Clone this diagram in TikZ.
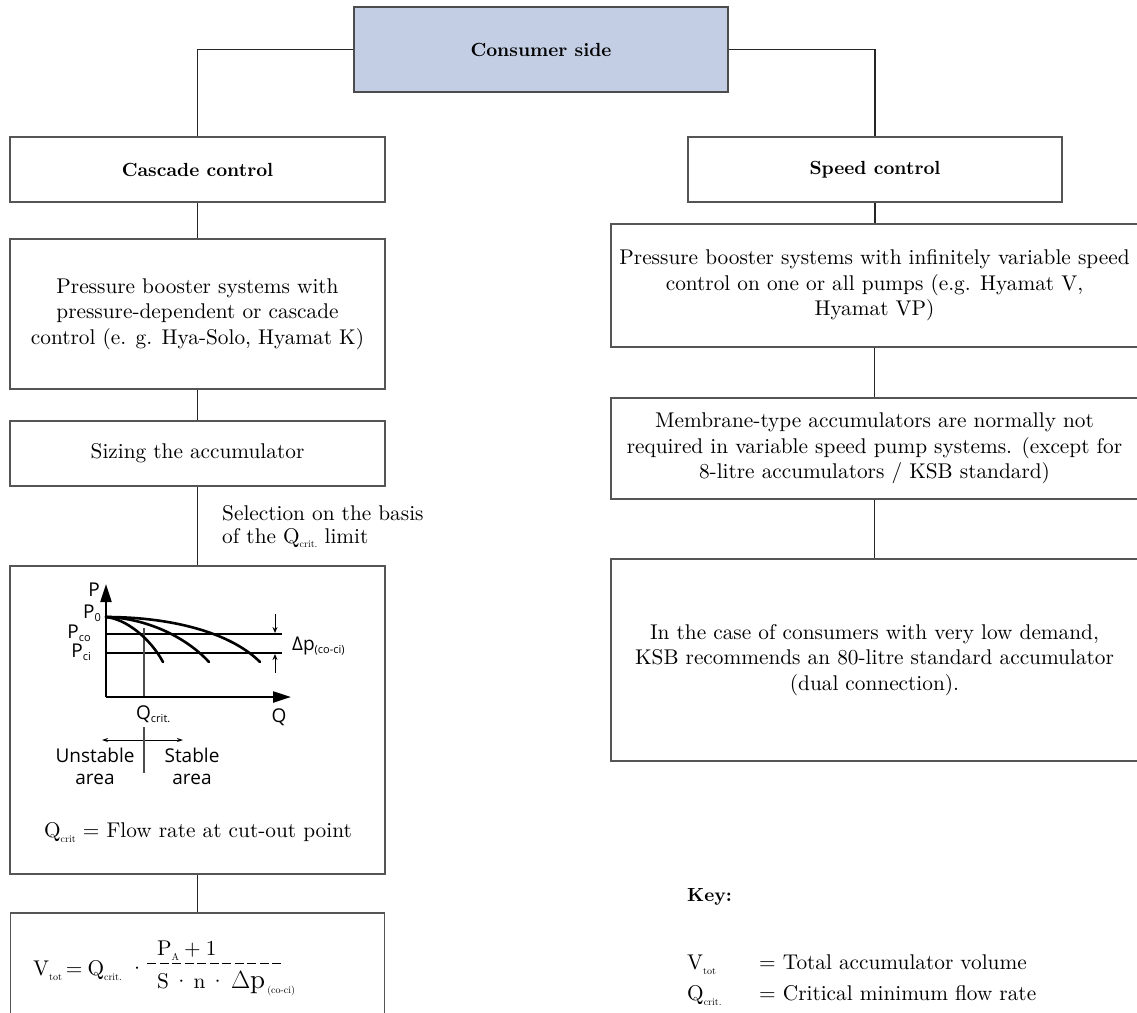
\documentclass[tikz,border=0pt]{standalone}
\usepackage{fontspec}
\setmainfont{lmroman10-regular.otf}[BoldFont=lmroman10-bold.otf, ItalicFont=lmroman10-italic.otf]
\newfontfamily\chartfont{Open Sans}
\usetikzlibrary{arrows.meta}
\definecolor{boxblue}{HTML}{C3CEE4}
\definecolor{edgegray}{HTML}{555555}
\newcommand{\lowsub}[1]{\raisebox{-0.55ex}{\fontsize{10}{10}\selectfont #1}}
\newcommand{\csub}[1]{\raisebox{-0.4ex}{\fontsize{10}{10}\selectfont #1}}
\newcommand{\chsub}[1]{\raisebox{-0.3ex}{\fontsize{11}{11}\selectfont #1}}
\tikzset{
  conn/.style={draw=black!85, line width=1.2pt},
  box/.style={draw=edgegray, line width=1.5pt, rectangle, inner sep=0pt, align=center,
    font=\fontsize{21.3}{25.5}\selectfont},
  boldbox/.style={box, font=\fontsize{19}{23}\selectfont\bfseries},
  lbl/.style={inner sep=0pt, font=\chartfont\fontsize{19}{22}\selectfont},
  txt/.style={inner sep=0pt, font=\fontsize{21.3}{25.5}\selectfont},
  axis/.style={line width=2.2pt, -{Triangle[length=18pt,width=11pt]}},
  curve/.style={line width=2.6pt, line cap=round},
  thinl/.style={line width=1.1pt},
  smallarr/.style={line width=1pt, -{Stealth[length=6pt,width=5pt]}},
}
\begin{document}
\begin{tikzpicture}[x=1pt,y=-1pt]
\useasboundingbox (0,0) rectangle (1137,1012);
\clip (0,0) rectangle (1137,1012);

% boxes
\node[boldbox, fill=boxblue, draw=black!70, line width=1.8pt, minimum width=374pt, minimum height=85pt, text depth=-6pt] (consumer) at (541,49.5) {Consumer side};
\node[boldbox, minimum width=375pt, minimum height=65pt] (cascade) at (197.5,169.5) {Cascade control};
\node[boldbox, minimum width=374pt, minimum height=65pt] (speed) at (875,169.5) {Speed control};
\node[box, minimum width=375pt, minimum height=150pt] (pbl) at (197.5,314) {Pressure booster systems with\\pressure-dependent or cascade\\control (e. g. Hya-Solo, Hyamat K)};
\node[box, minimum width=375pt, minimum height=65pt] (sizing) at (197.5,453.5) {Sizing the accumulator};
\node[box, minimum width=375pt, minimum height=308pt] (chart) at (197.5,720) {};
\node[box, minimum width=374pt, minimum height=140pt] (formula) at (197.5,983) {};
\node[box, minimum width=527pt, minimum height=123pt] (pbr) at (874.5,285.5) {Pressure booster systems with infinitely variable speed\\control on one or all pumps (e.g. Hyamat V,\\Hyamat VP)};
\node[box, minimum width=527pt, minimum height=101pt] (memb) at (874.5,448.5) {Membrane-type accumulators are normally not\\required in variable speed pump systems. (except for\\8-litre accumulators / KSB standard)};
\node[box, minimum width=527pt, minimum height=202pt] (lowd) at (874.5,660) {In the case of consumers with very low demand,\\KSB recommends an 80-litre standard accumulator\\(dual connection).};

% connectors
\draw[conn] (consumer.west) -| (cascade.north);
\draw[conn] (consumer.east) -| (speed.north);
\draw[conn] (cascade.south) -- (pbl.north);
\draw[conn] (pbl.south) -- (sizing.north);
\draw[conn] (sizing.south) -- (chart.north);
\draw[conn] (chart.south) -- (formula.north);
\draw[conn] (speed.south) -- (speed.south |- pbr.north);
\draw[conn] (pbr.south) -- (memb.north);
\draw[conn] (memb.south) -- (lowd.north);

\node[txt, anchor=west, align=left, font=\fontsize{21.3}{23}\selectfont] (sel) at (222,527) {Selection on the basis\\of the Q\csub{crit.} limit};

% chart
\coordinate (O) at (106,697);
\coordinate (ytip) at (106,584);
\coordinate (xtip) at (291,697);
\coordinate (P0) at (106,617);
\draw[thinl] (106,634) -- (282,634);
\draw[thinl] (106,653) -- (282,653);
\draw[thinl, black!70] (144,628) -- (144,697);
\draw[curve] (P0) .. controls (126,619) and (150,638) .. (163,662);
\draw[curve] (P0) .. controls (145,618) and (185,636) .. (209,662);
\draw[curve] (P0) .. controls (170,617) and (230,632) .. (260,662);
\draw[axis] (O) -- (ytip);
\draw[axis] (O) -- (xtip);
\draw[smallarr] (275,614) -- (275,633);
\draw[smallarr] (275,673) -- (275,654);
\node[lbl] (lp) at (94,590) {P};
\node[lbl, anchor=east] (lp0) at (101,613) {P\chsub{0}};
\node[lbl, anchor=east] (lpco) at (91,633) {P\chsub{co}};
\node[lbl, anchor=east] (lpci) at (91,652) {P\chsub{ci}};
\node[lbl, anchor=west] (ldp) at (292,646) {Δp\chsub{(co-ci)}};
\node[lbl, anchor=west] (lqc) at (136,714) {Q\chsub{crit.}};
\node[lbl] (lq) at (279,717) {Q};
\draw[line width=0.9pt, {Stealth[length=6pt,width=4pt]}-{Stealth[length=6pt,width=4pt]}] (102,740) -- (183,740);
\draw[thinl, black!70] (144,727) -- (144,773);
\node[lbl, align=center, font=\chartfont\fontsize{19}{22}\selectfont] (lun) at (95,766) {Unstable\\area};
\node[lbl, align=center, font=\chartfont\fontsize{19}{22}\selectfont] (lst) at (192,766) {Stable\\area};
\node[txt] (flow) at (198,833) {Q\lowsub{crit} = Flow rate at cut-out point};

% formula
\node[txt, anchor=base west] (fl) at (33,975) {V\lowsub{tot}\hspace{4pt}=\hspace{5pt}Q\lowsub{crit.}\hspace{7pt}·};
\node[txt, anchor=base west] (num) at (157,955) {P\lowsub{A}\hspace{5pt}+\hspace{5pt}1};
\draw[line width=1pt, dash pattern=on 9pt off 3.5pt] (147,963) -- (282,963);
\node[txt, anchor=base west] (den) at (157,988) {S\hspace{4pt}·\hspace{4pt}n\hspace{4pt}·\hspace{5pt}{\fontsize{27}{27}\selectfont$\Delta$p}\hspace{2pt}\lowsub{(co-ci)}};

% key
\node[txt, anchor=west, font=\fontsize{19}{23}\selectfont\bfseries] (key) at (687,897) {Key:};
\node[txt, anchor=base west] (kv) at (687,969) {V\lowsub{tot}};
\node[txt, anchor=base west] (kvt) at (759,969) {= Total accumulator volume};
\node[txt, anchor=base west] (kq) at (687,1000) {Q\lowsub{crit.}};
\node[txt, anchor=base west] (kqt) at (759,1000) {= Critical minimum flow rate};
\end{tikzpicture}
\end{document}
